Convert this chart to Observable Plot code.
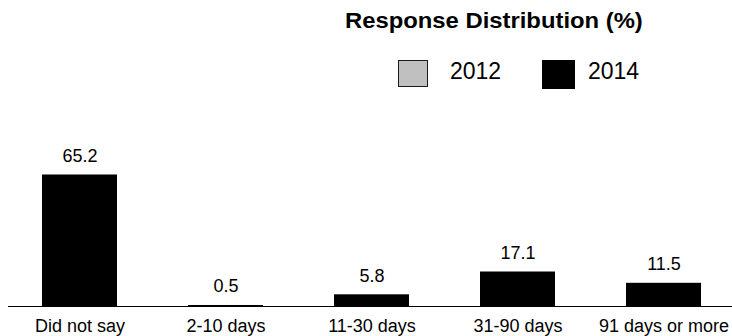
<!DOCTYPE html>
<html>
<head>
<meta charset="utf-8">
<script src="https://cdn.jsdelivr.net/npm/d3@7"></script>
<script src="https://cdn.jsdelivr.net/npm/@observablehq/plot@0.6"></script>
<style>
  html, body { margin: 0; padding: 0; background: #fff; }
  body { font-family: "Liberation Sans", Arial, Helvetica, sans-serif; color: #000; }
  #wrap { position: relative; width: 732px; height: 336px; overflow: hidden; }
  #header { position: relative; width: 732px; height: 100px; }
  .abs { position: absolute; line-height: 1; white-space: nowrap; }
  #title { font-weight: bold; font-size: 21.5px; left: 345px; top: 11.3px; transform: scaleX(1.108); transform-origin: 0 0; }
  .lg { font-size: 23px; top: 59.5px; }
  .sw { position: absolute; box-sizing: border-box; }
  #chart svg { display: block; }
</style>
</head>
<body>
<div id="wrap">
  <div id="header"></div>
  <div id="chart"></div>
</div>
<script>
const categories = ["Did not say", "2-10 days", "11-30 days", "31-90 days", "91 days or more"];
const values2014 = [65.2, 0.5, 5.8, 17.1, 11.5];
const seriesNames = ["2012", "2014"];
const seriesColors = ["#c0c0c0", "#000000"];
const titleText = "Response Distribution (%)";

const data = categories.map((c, i) => ({category: c, value: values2014[i], series: "2014"}));

// header: title + legend
const header = document.getElementById("header");
const title = document.createElement("div");
title.className = "abs";
title.id = "title";
title.textContent = titleText;
header.appendChild(title);

const legendLayout = [
  {sw: {left: 398, top: 60, width: 30, height: 27, border: "1.5px solid #1a1a1a"}, textLeft: 450},
  {sw: {left: 542, top: 60, width: 33, height: 29, border: "none"}, textLeft: 588}
];
seriesNames.forEach((name, i) => {
  const L = legendLayout[i];
  const sw = document.createElement("div");
  sw.className = "sw";
  sw.style.left = L.sw.left + "px";
  sw.style.top = L.sw.top + "px";
  sw.style.width = L.sw.width + "px";
  sw.style.height = L.sw.height + "px";
  sw.style.border = L.sw.border;
  sw.style.background = seriesColors[i];
  header.appendChild(sw);
  const t = document.createElement("div");
  t.className = "abs lg";
  t.style.left = L.textLeft + "px";
  t.textContent = name;
  header.appendChild(t);
});

const chart = Plot.plot({
  width: 732,
  height: 236,
  marginLeft: 8,
  marginRight: 0,
  marginTop: 0,
  marginBottom: 30,
  style: {fontFamily: '"Liberation Sans", Arial, sans-serif', fontSize: "18px", color: "#000", background: "#fff"},
  x: {domain: categories, range: [7, 737], paddingInner: 0.486, paddingOuter: 0.243, label: null},
  y: {domain: [0, 100], range: [206, 4.3], axis: null},
  marks: [
    Plot.barY(data, {x: "category", y: "value", fill: "#000"}),
    Plot.text(data, {x: "category", y: "value", text: d => d.value.toFixed(1), lineAnchor: "bottom", dy: -13, fontSize: 18, fill: "#000"}),
    Plot.ruleY([0], {stroke: "#000", strokeWidth: 1.2}),
    Plot.axisX({tickSize: 0, tickPadding: 13, fontSize: 18, label: null})
  ]
});
document.getElementById("chart").appendChild(chart);
</script>
</body>
</html>
